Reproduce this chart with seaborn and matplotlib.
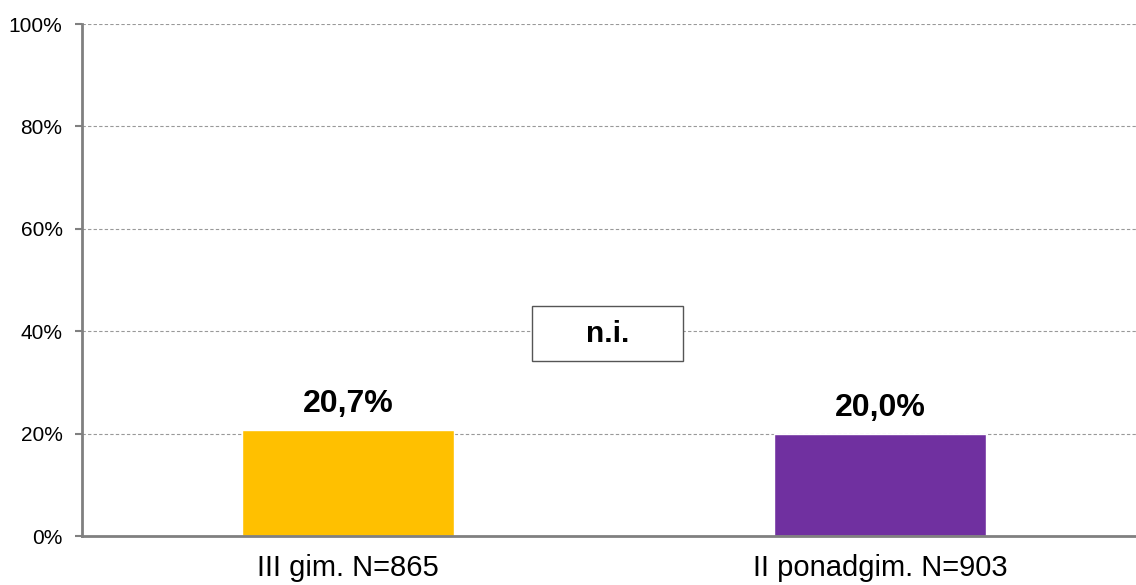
import numpy as np
import pandas as pd
import matplotlib
matplotlib.use("Agg")
import matplotlib.pyplot as plt
from matplotlib.patches import Rectangle
import seaborn as sns

categories = ["III gim. N=865", "II ponadgim. N=903"]
values = [20.7, 20.0]
value_labels = ["20,7%", "20,0%"]
bar_colors = ["#FFC000", "#7030A0"]
y_ticks = [0, 20, 40, 60, 80, 100]
y_tick_labels = ["0%", "20%", "40%", "60%", "80%", "100%"]
note_text = "n.i."

df = pd.DataFrame({"group": categories, "share": values})

sns.set_theme(style="white")
plt.rcParams["font.family"] = ["Liberation Sans", "DejaVu Sans"]
plt.rcParams["text.color"] = "black"

fig = plt.figure(figsize=(11.36, 5.85), dpi=100)
# axes runs a little past the right edge, as in the original
ax = fig.add_axes([82 / 1136, 49 / 585, 1064 / 1136, 512 / 585])

sns.barplot(data=df, x="group", y="share", hue="group", palette=bar_colors,
            width=0.4, legend=False, ax=ax, saturation=1)

ax.set_xlim(-0.5, 1.5)
ax.set_ylim(0, 100)
ax.set_yticks(y_ticks)
ax.set_yticklabels(y_tick_labels, fontsize=15, color="black")
ax.set_xticks(range(len(categories)))
ax.set_xticklabels(categories, fontsize=21, color="black")
ax.tick_params(axis="x", which="major", length=0, pad=13)
ax.set_xticks([-0.5, 0.5, 1.5], minor=True)
ax.tick_params(axis="x", which="minor", length=6, width=2, color="#808080")
ax.tick_params(axis="y", which="major", length=5, width=1.5, color="#808080", pad=9,
               left=True)
ax.set_xlabel("")
ax.set_ylabel("")

for s in ["top", "right"]:
    ax.spines[s].set_visible(False)
for s in ["left", "bottom"]:
    ax.spines[s].set_color("#808080")
    ax.spines[s].set_linewidth(2)

for y in y_ticks[1:]:
    ax.axhline(y, color="#999999", lw=0.8, ls=(0, (3, 2)), zorder=0)

for i, (v, lab) in enumerate(zip(values, value_labels)):
    ax.annotate(lab, (i, v), xytext=(0, 13), textcoords="offset points",
                ha="center", va="baseline", fontsize=23, fontweight="bold",
                color="black")

box = Rectangle((0.346, 34.2), 0.284, 10.7, facecolor="white",
                edgecolor="#555555", lw=1, zorder=5)
ax.add_patch(box)
ax.text(0.488, 39.5, note_text, ha="center", va="center", fontsize=21.5,
        fontweight="bold", color="black", zorder=6)

fig.savefig("out.png", dpi=100)
